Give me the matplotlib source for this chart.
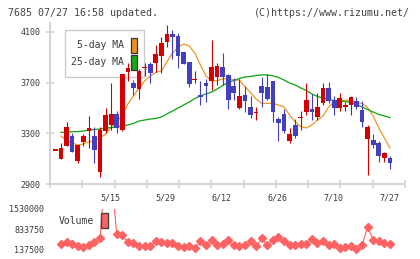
import numpy as np
import matplotlib
matplotlib.use("Agg")
import matplotlib.pyplot as plt
from matplotlib.patches import Rectangle

# daily candles, index -1 .. 59 (5/1 .. 7/27)
opens = [3168, 3095, 3203, 3279, 3084, 3234, 3318, 3281, 2997, 3318, 3366,
         3450, 3326, 3787, 3700, 3647, 3815, 3847, 3853, 3913, 4024,
         4084, 4068, 3942, 3863, 3725, 3603, 3700, 3713, 3747, 3826,
         3761, 3674, 3503, 3603, 3505, 3460, 3674, 3668, 3713, 3416,
         3453, 3242, 3366, 3420, 3471, 3492, 3432, 3542, 3655, 3563,
         3503, 3510, 3524, 3555, 3484, 3255, 3247, 3221, 3103, 3103]
highs = [3168, 3221, 3387, 3302, 3208, 3292, 3437, 3347, 3350, 3497, 3697,
         3479, 3768, 3853, 3720, 3810, 3853, 3860, 3997, 4063, 4155,
         4116, 4095, 3942, 3863, 3792, 3713, 3726, 4037, 3853, 3937,
         3769, 3734, 3726, 3674, 3595, 3505, 3747, 3768, 3713, 3432,
         3489, 3339, 3410, 3479, 3700, 3610, 3621, 3695, 3708, 3595,
         3621, 3550, 3595, 3584, 3555, 3366, 3295, 3242, 3155, 3121]
lows = [3168, 3095, 3203, 3155, 3068, 3200, 3187, 3068, 2958, 3300, 3326,
        3305, 3320, 3716, 3603, 3571, 3755, 3700, 3782, 3779, 3984,
        3884, 3813, 3845, 3668, 3695, 3524, 3550, 3642, 3682, 3682,
        3489, 3563, 3489, 3471, 3418, 3405, 3510, 3566, 3392, 3242,
        3300, 3221, 3260, 3326, 3445, 3405, 3405, 3524, 3537, 3445,
        3479, 3479, 3445, 3489, 3347, 2971, 3187, 3076, 3076, 3016]
closes = [3168, 3187, 3347, 3155, 3208, 3279, 3345, 3168, 3326, 3445, 3450,
          3339, 3768, 3818, 3661, 3795, 3818, 3779, 3926, 4016, 4084,
          4063, 3913, 3850, 3687, 3729, 3584, 3676, 3826, 3832, 3747,
          3563, 3621, 3595, 3555, 3445, 3463, 3621, 3571, 3471, 3379,
          3321, 3295, 3279, 3426, 3563, 3471, 3505, 3655, 3558, 3503,
          3576, 3524, 3584, 3510, 3392, 3347, 3208, 3121, 3142, 3068]

# moving averages, index 0 .. 59
ma5 = [3279, 3243, 3224, 3208, 3216, 3232, 3243, 3263, 3295, 3350,
       3390, 3445, 3532, 3595, 3658, 3713, 3753, 3780, 3792, 3863,
       3934, 3982, 4005, 3990, 3934, 3840, 3753, 3713, 3717, 3729,
       3733, 3721, 3721, 3668, 3622, 3571, 3537, 3537, 3536, 3524,
       3508, 3445, 3390, 3354, 3342, 3366, 3405, 3437, 3508, 3547,
       3555, 3562, 3559, 3543, 3536, 3504, 3437, 3342, 3263, 3184]
ma25 = [3307, 3311, 3313, 3314, 3318, 3326, 3330, 3334, 3342, 3346,
        3350, 3358, 3366, 3378, 3397, 3405, 3413, 3417, 3429, 3453,
        3476, 3500, 3524, 3547, 3575, 3595, 3611, 3626, 3650, 3678,
        3701, 3717, 3733, 3745, 3749, 3757, 3761, 3761, 3753, 3741,
        3721, 3697, 3682, 3658, 3638, 3611, 3591, 3579, 3567, 3559,
        3555, 3551, 3543, 3528, 3508, 3488, 3468, 3449, 3437, 3425]

volume = [301000, 392000, 301000, 252000, 207000, 266000, 392000, 510000,
          3000000, 2750000, 660000, 614000, 371000, 336000, 242000, 242000,
          242000, 426000, 371000, 346000, 346000, 259000, 207000, 259000,
          162000, 416000, 266000, 440000, 266000, 301000, 440000, 266000,
          231000, 266000, 406000, 231000, 510000, 266000, 440000, 545000,
          406000, 266000, 266000, 301000, 301000, 475000, 336000, 406000,
          266000, 301000, 162000, 197000, 231000, 130000, 266000, 903000,
          440000, 406000, 336000, 301000]

date_pos = [7, 17, 27, 37, 47, 59]
date_labels = ["5/15", "5/29", "6/12", "6/26", "7/10", "7/27"]
price_ticks = [2900, 3300, 3700, 4100]
vol_ticks = [137500, 833750, 1530000]

RED = "#d40000"
BLUE = "#4040c0"
ORANGE = "#f0901a"
GREEN = "#18a818"
VOLC = "#ff6262"
GRID = "#d4d4d4"
TXT = "#3a3a3a"
MONO = "DejaVu Sans Mono"

W, H = 420, 259
def fx(x):
    return x / W
def fy(y):
    return 1 - y / H

fig = plt.figure(figsize=(W / 100, H / 100), dpi=100)

xmin, xmax = -1.97, 61.7

# price panel
ax = fig.add_axes([fx(50), fy(184), fx(405) - fx(50), fy(23) - fy(184)])
o = np.array(opens); h = np.array(highs); l = np.array(lows); c = np.array(closes)
idx = np.arange(-1, len(o) - 1)
cols = np.where(c >= o, RED, BLUE)
body = np.maximum(np.abs(c - o), 9)
ax.vlines(idx, l, h, colors=cols, lw=0.8, zorder=3)
ax.bar(idx, body, bottom=(o + c) / 2 - body / 2, width=0.84, color=cols,
       linewidth=0, zorder=4)
days = np.arange(len(ma5))
ax.plot(days, ma5, color=ORANGE, lw=0.85, zorder=2)
ax.plot(days, ma25, color=GREEN, lw=0.95, zorder=2)

ax.set_xlim(xmin, xmax)
ax.set_ylim(2900, 4171)
ax.set_yticks(price_ticks)
ax.set_yticklabels([str(t) for t in price_ticks], fontfamily=MONO, fontsize=6,
                   color=TXT)
ax.set_xticks(np.linspace(xmin, xmax, 12))
ax.set_xticklabels([])
ax.tick_params(direction="inout", length=6, width=1.2, color=GRID, pad=4)
for s in ["top", "right"]:
    ax.spines[s].set_visible(False)
for s in ["left", "bottom"]:
    ax.spines[s].set_color(GRID)
    ax.spines[s].set_linewidth(1.4)
ax.patch.set_alpha(0)

for p, lab in zip(date_pos, date_labels):
    ha = "center" if p == date_pos[-1] else "left"
    ax.text(p, -0.085, lab, transform=ax.get_xaxis_transform(), ha=ha,
            va="center", fontfamily=MONO, fontsize=6, color=TXT)

# legend box (under candles)
ax.add_patch(Rectangle((fx(65), fy(77)), fx(144) - fx(65), fy(30) - fy(77),
                       transform=fig.transFigure, facecolor="white",
                       edgecolor="#cccccc", lw=1, zorder=1, clip_on=False))
for y, lab, col in [(45, "5-day MA", ORANGE), (62, "25-day MA", GREEN)]:
    ax.text(fx(124), fy(y), lab, transform=fig.transFigure, ha="right",
            va="center", fontfamily=MONO, fontsize=7, color=TXT, zorder=1)
    ax.add_patch(Rectangle((fx(131), fy(y + 7.5)), fx(6), 15 / H,
                           transform=fig.transFigure, facecolor=col,
                           edgecolor="#333333", lw=0.9, zorder=1, clip_on=False))

# volume panel
vax = fig.add_axes([fx(50), fy(253), fx(405) - fx(50), fy(209) - fy(253)])
vd = np.arange(len(volume))
vol = np.array(volume)
vax.plot(vd, vol, color=VOLC, lw=0.8, zorder=2)
keep = vol <= vol_ticks[-1]
vax.plot(vd[keep], vol[keep], "D", color=VOLC, markersize=3.6, lw=0,
         clip_on=False, zorder=3)
vax.set_xlim(xmin, xmax)
vax.set_ylim(0, 1530000)
vax.set_yticks(vol_ticks)
vax.set_yticklabels([str(t) for t in vol_ticks], fontfamily=MONO, fontsize=6,
                    color=TXT)
vax.set_xticks([])
vax.tick_params(length=0, pad=4)
for s in vax.spines.values():
    s.set_visible(False)
vax.patch.set_alpha(0)

fig.text(fx(59), fy(221.5), "Volume", ha="left", va="center", fontfamily=MONO,
         fontsize=7, color=TXT)
fig.patches.append(Rectangle((fx(101), fy(228)), fx(7), 15 / H,
                             transform=fig.transFigure, facecolor=VOLC,
                             edgecolor="#444444", lw=1, zorder=5))

fig.text(fx(8), fy(12.5), "7685 07/27 16:58 updated.", ha="left", va="center",
         fontfamily=MONO, fontsize=7.2, color="#444444")
fig.text(fx(410), fy(12.5), "(C)https://www.rizumu.net/", ha="right",
         va="center", fontfamily=MONO, fontsize=7.2, color="#444444")

fig.savefig("out.png", dpi=100)
